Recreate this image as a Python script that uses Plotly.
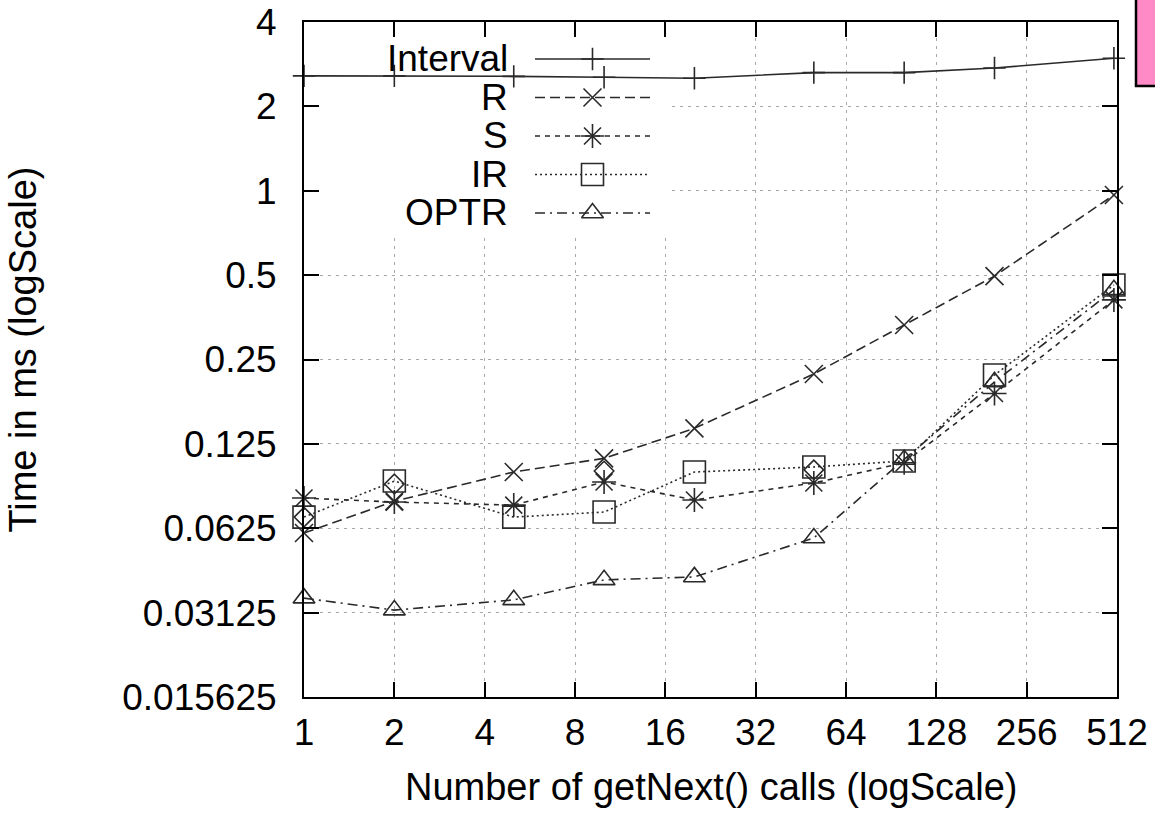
import math
import plotly.graph_objects as go

# ---------------- data ----------------
calls = [1, 2, 5, 10, 20, 50, 100, 200, 500]
interval_ms = [2.57, 2.57, 2.56, 2.54, 2.52, 2.64, 2.64, 2.74, 2.97]
r_ms = [0.0601, 0.078, 0.0992, 0.111, 0.142, 0.222, 0.332, 0.496, 0.966]
s_ms = [0.0801, 0.0775, 0.0756, 0.0914, 0.0788, 0.0906, 0.107, 0.189, 0.408]
ir_ms = [0.0685, 0.0921, 0.0685, 0.0714, 0.0992, 0.1034, 0.1086, 0.220, 0.461]
optr_ms = [0.0352, 0.0319, 0.0347, 0.0409, 0.0419, 0.0577, 0.110, 0.208, 0.443]
# unlabeled diamond points visible in the reference
extra_calls = [1, 2, 10, 50]
extra_ms = [0.0685, 0.0899, 0.100, 0.101]

series_names = ["Interval", "R", "S", "IR", "OPTR"]
series_values = [interval_ms, r_ms, s_ms, ir_ms, optr_ms]

x_tickvals = [1, 2, 4, 8, 16, 32, 64, 128, 256, 512]
x_ticktext = ["1", "2", "4", "8", "16", "32", "64", "128", "256", "512"]
y_tickvals = [0.015625, 0.03125, 0.0625, 0.125, 0.25, 0.5, 1, 2, 4]
y_ticktext = ["0.015625", "0.03125", "0.0625", "0.125", "0.25", "0.5", "1", "2", "4"]

x_title = "Number of getNext() calls (logScale)"
y_title = "Time in ms (logScale)"

# ---------------- styles ----------------
FONT = "Liberation Sans, Arial, Helvetica, sans-serif"
FS = 37
LINE_COL = "#2a2a2a"
styles = {
    "Interval": dict(symbol="cross-thin-open", size=16, dash="solid"),
    "R": dict(symbol="x-thin-open", size=18, dash="10px,5px"),
    "S": dict(symbol="asterisk-open", size=20, dash="5px,5px"),
    "IR": dict(symbol="square-open", size=22, dash="2px,3px"),
    "OPTR": dict(symbol="triangle-up-open", size=19, dash="10px,5px,2px,5px"),
}

fig = go.Figure()

for name, vals in zip(series_names, series_values):
    st = styles[name]
    fig.add_trace(go.Scatter(
        x=calls, y=vals, mode="lines+markers", name=name, showlegend=False,
        line=dict(color=LINE_COL, width=1.6, dash=st["dash"]),
        marker=dict(symbol=st["symbol"], size=st["size"], color=LINE_COL,
                    line=dict(color=LINE_COL, width=1.6)),
        cliponaxis=False, xaxis="x", yaxis="y",
    ))

fig.add_trace(go.Scatter(
    x=extra_calls, y=extra_ms, mode="markers", showlegend=False,
    marker=dict(symbol="diamond-open", size=15, color=LINE_COL,
                line=dict(color=LINE_COL, width=1.6)),
    cliponaxis=False, xaxis="x", yaxis="y",
))

# ---------------- gnuplot-style key (text left, sample right) ----------------
annotations = []
for i, name in enumerate(series_names):
    st = styles[name]
    fig.add_trace(go.Scatter(
        x=[0, 1], y=[i, i], mode="lines", showlegend=False, hoverinfo="skip",
        line=dict(color=LINE_COL, width=1.6, dash=st["dash"]),
        xaxis="x2", yaxis="y2", cliponaxis=False,
    ))
    fig.add_trace(go.Scatter(
        x=[0.5], y=[i], mode="markers", showlegend=False, hoverinfo="skip",
        marker=dict(symbol=st["symbol"], size=st["size"], color=LINE_COL,
                    line=dict(color=LINE_COL, width=1.6)),
        xaxis="x2", yaxis="y2", cliponaxis=False,
    ))
    annotations.append(dict(
        text=name, xref="x2", yref="y2", x=0, y=i, xanchor="right",
        yanchor="middle", xshift=-25, showarrow=False,
        font=dict(family=FONT, size=FS, color="black"),
    ))

annotations.append(dict(
    text=x_title, xref="paper", yref="paper", x=0.5, y=-0.1333,
    xanchor="center", yanchor="middle", showarrow=False,
    font=dict(family=FONT, size=38, color="black"),
))
annotations.append(dict(
    text=y_title, xref="paper", yref="paper", x=-0.345, y=0.514,
    xanchor="center", yanchor="middle", textangle=-90, showarrow=False,
    font=dict(family=FONT, size=38, color="black"),
))

axis_common = dict(
    showline=True, linewidth=2, linecolor="black", mirror="allticks",
    ticks="inside", ticklen=15, tickwidth=2, tickcolor="black",
    showgrid=True, gridcolor="#a8a8a8", gridwidth=1, griddash="3px,5px",
    zeroline=False, automargin=False,
    tickfont=dict(family=FONT, size=FS, color="black"),
)

# key box extents (layout positions, in axis units)
key_x1 = 2 ** ((668 - 304) / (813 / 9))
key_y0 = 4 * 2 ** (-(234 - 22) / (675 / 8))

fig.update_layout(
    width=1155, height=813, autosize=False,
    margin=dict(l=304, r=38, t=22, b=116, pad=0),
    paper_bgcolor="white", plot_bgcolor="rgba(0,0,0,0)",
    showlegend=False,
    xaxis=dict(type="log", range=[0, math.log10(512)],
               tickvals=x_tickvals, ticktext=x_ticktext,
               ticklabelstandoff=2, **axis_common),
    yaxis=dict(type="log", range=[math.log10(0.015625), math.log10(4)],
               tickvals=y_tickvals, ticktext=y_ticktext,
               ticklabelstandoff=18, **axis_common),
    xaxis2=dict(domain=[(535 - 304) / 813, (650 - 304) / 813], range=[0, 1],
                visible=False, anchor="y2", fixedrange=True, automargin=False),
    yaxis2=dict(domain=[(697 - 232.25) / 675, (697 - 39.75) / 675],
                range=[4.5, -0.5], visible=False, anchor="x2", fixedrange=True,
                automargin=False),
    annotations=annotations,
    shapes=[
        # opaque key box (hides grid, not data)
        dict(type="rect", xref="x", yref="y",
             x0=1.01, x1=key_x1, y0=key_y0, y1=3.95,
             fillcolor="white", line=dict(width=0), layer="between"),
        # pink box at top-right edge
        dict(type="rect", xref="paper", yref="paper",
             x0=(1136 - 304) / 813, x1=(1158 - 304) / 813,
             y0=(697 - 86) / 675, y1=(697 + 3) / 675,
             fillcolor="#ff8ac6", line=dict(color="black", width=2.5),
             layer="above"),
    ],
    hovermode=False,
)

fig.write_html("out.html", config={"displayModeBar": False})
